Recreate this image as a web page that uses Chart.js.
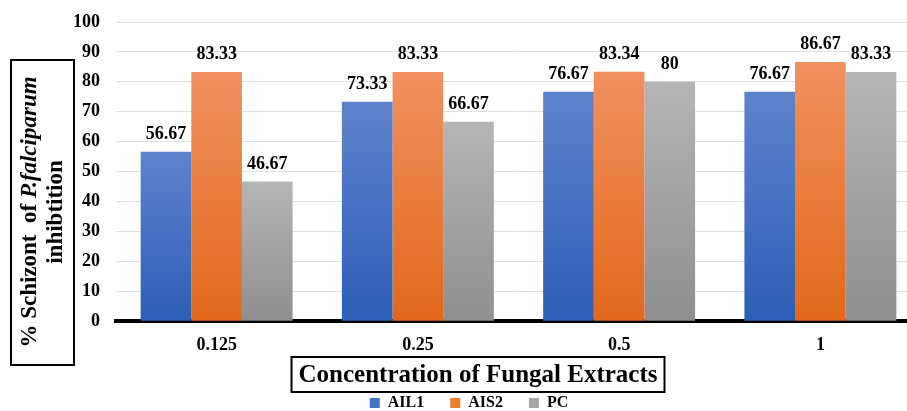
<!DOCTYPE html>
<html>
<head>
<meta charset="utf-8">
<script src="https://cdn.jsdelivr.net/npm/chart.js@4.4.1/dist/chart.umd.min.js"></script>
<style>
  html, body { margin: 0; padding: 0; background: #fff; overflow: hidden; }
  /* the original figure is cropped on the right, so the chart runs past the window */
  #wrap { width: 931px; height: 411px; }
</style>
</head>
<body>
<div id="wrap"><canvas id="chart"></canvas></div>
<script>
const categories = ['0.125', '0.25', '0.5', '1'];
const ail1 = [56.67, 73.33, 76.67, 76.67];
const ais2 = [83.33, 83.33, 83.34, 86.67];
const pc = [46.67, 66.67, 80, 83.33];
const seriesNames = ['AIL1', 'AIS2', 'PC'];
const yTicks = [0, 10, 20, 30, 40, 50, 60, 70, 80, 90, 100];

const FONT = '"Liberation Serif", "Times New Roman", serif';

// top/bottom colours of each bar gradient, plus the flat legend colour
const shades = [
  { top: '#5E83CD', bottom: '#2D5DB6', flat: '#4472C4' },
  { top: '#F19160', bottom: '#E2681A', flat: '#ED7D31' },
  { top: '#B5B5B5', bottom: '#8F8F8F', flat: '#A5A5A5' }
];

function barFill(idx) {
  return function(context) {
    const chart = context.chart;
    if (context.type !== 'data' || !chart.chartArea) return shades[idx].flat;
    const y = chart.scales.y;
    const top = y.getPixelForValue(context.raw);
    const bottom = y.getPixelForValue(0);
    const g = chart.ctx.createLinearGradient(0, top, 0, bottom);
    g.addColorStop(0, shades[idx].top);
    g.addColorStop(1, shades[idx].bottom);
    return g;
  };
}

// labels above each bar + boxed axis titles
const decorations = {
  id: 'decorations',
  afterDatasetsDraw(chart) {
    const ctx = chart.ctx;
    ctx.save();
    ctx.fillStyle = '#000';
    ctx.font = 'bold 18px ' + FONT;
    ctx.textAlign = 'center';
    ctx.textBaseline = 'alphabetic';
    chart.data.datasets.forEach((ds, i) => {
      chart.getDatasetMeta(i).data.forEach((bar, j) => {
        ctx.fillText(String(ds.data[j]), bar.x, bar.y - 13);
      });
    });
    ctx.restore();
  },
  afterDraw(chart) {
    const ctx = chart.ctx;
    ctx.save();
    ctx.strokeStyle = '#000';
    ctx.lineWidth = 2;
    ctx.fillStyle = '#000';

    // x title box
    ctx.font = 'bold 25px ' + FONT;
    const xt = 'Concentration of Fungal Extracts';
    const w = ctx.measureText(xt).width;
    const cx = 478, by = 357;
    ctx.strokeRect(cx - w / 2 - 7, by, w + 14, 35);
    ctx.textAlign = 'center';
    ctx.textBaseline = 'middle';
    ctx.fillText(xt, cx, by + 19);

    // y title box, rotated text
    ctx.strokeRect(11, 60, 63, 305);
    ctx.translate(42, 212);
    ctx.rotate(-Math.PI / 2);
    const p1 = '% Schizont  of ';
    const p2 = 'P.falciparum';
    ctx.font = 'bold 23px ' + FONT;
    const w1 = ctx.measureText(p1).width;
    ctx.font = 'italic bold 23px ' + FONT;
    const w2 = ctx.measureText(p2).width;
    const sx = -(w1 + w2) / 2;
    ctx.textAlign = 'left';
    ctx.font = 'bold 23px ' + FONT;
    ctx.fillText(p1, sx, -12);
    ctx.font = 'italic bold 23px ' + FONT;
    ctx.fillText(p2, sx + w1, -12);
    ctx.font = 'bold 23px ' + FONT;
    ctx.textAlign = 'center';
    ctx.fillText('inhibtition', 0, 14);
    ctx.restore();
  }
};

const sets = [ail1, ais2, pc].map((d, i) => ({
  label: seriesNames[i],
  data: d,
  backgroundColor: barFill(i),
  borderWidth: 0,
  categoryPercentage: 0.755,
  barPercentage: 1
}));

new Chart(document.getElementById('chart'), {
  type: 'bar',
  data: { labels: categories, datasets: sets },
  plugins: [decorations],
  options: {
    responsive: true,
    maintainAspectRatio: false,
    animation: false,
    layout: { padding: { left: 17, right: 10, top: 22, bottom: -10 } },
    plugins: {
      tooltip: { enabled: false },
      legend: {
        position: 'bottom',
        labels: {
          boxWidth: 10,
          boxHeight: 10,
          padding: 26,
          color: '#000',
          font: { family: FONT, size: 16, weight: 'bold' },
          generateLabels(chart) {
            return chart.data.datasets.map((ds, i) => ({
              text: ds.label,
              fillStyle: shades[i].flat,
              strokeStyle: shades[i].flat,
              lineWidth: 0,
              fontColor: '#000',
              datasetIndex: i
            }));
          }
        }
      }
    },
    scales: {
      x: {
        grid: { display: false },
        border: { color: '#000', width: 4 },
        ticks: { color: '#000', padding: 5, font: { family: FONT, size: 18, weight: 'bold' } },
        title: { display: true, text: '', font: { size: 1 }, padding: { top: 0, bottom: 7 } }
      },
      y: {
        min: 0,
        max: 100,
        afterBuildTicks(scale) { scale.ticks = yTicks.map(v => ({ value: v })); },
        // fixed axis width (room for the boxed title) and no extra top gap
        afterFit(scale) { scale.width = 99; scale.paddingTop = 0; },
        grid: { color: '#DCE1E8', lineWidth: 1, drawTicks: false },
        border: { display: false },
        ticks: { color: '#000', padding: 16, font: { family: FONT, size: 18, weight: 'bold' } }
      }
    }
  }
});
</script>
</body>
</html>
